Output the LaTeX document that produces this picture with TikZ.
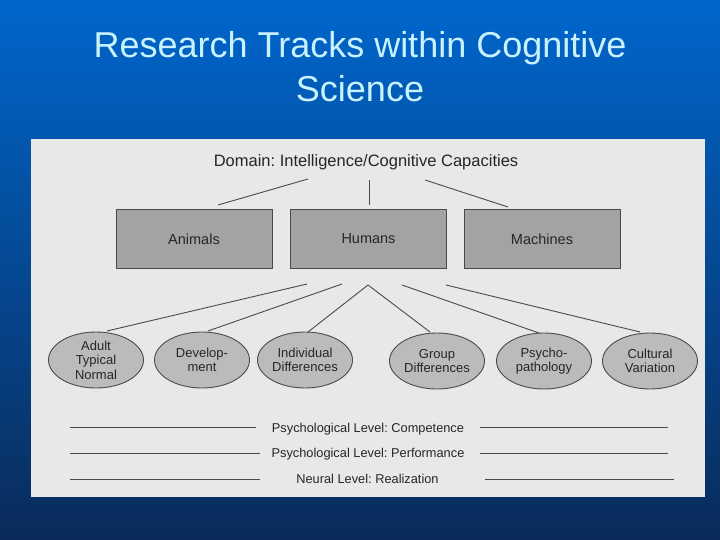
\documentclass[tikz,border=0pt]{standalone}
\usepackage{fontspec}
\setmainfont{Liberation Sans}
\usetikzlibrary{shapes.geometric}
\frenchspacing
\definecolor{bgtop}{HTML}{0066CC}
\definecolor{bgmid}{HTML}{0852A8}
\definecolor{bgbot}{HTML}{0A2B5A}
\definecolor{titlecol}{HTML}{C8F2FF}
\definecolor{panel}{HTML}{E8E8E8}
\definecolor{boxfill}{HTML}{A3A3A3}
\definecolor{ellfill}{HTML}{BBBBBB}
\definecolor{ink}{HTML}{4A4A4A}
\definecolor{txt}{HTML}{262626}
\tikzset{
  titletext/.style={text=titlecol, font=\fontsize{36}{44}\selectfont, anchor=base, inner sep=0pt},
  boxnode/.style={draw=ink, line width=1pt, fill=boxfill, minimum width=156pt, minimum height=58pt, inner sep=0pt, text=txt, font=\fontsize{14.5}{17}\selectfont},
  ellnode/.style={ellipse, draw=ink, line width=0.9pt, fill=ellfill, minimum width=95pt, minimum height=56pt, inner sep=0pt, align=center, text=txt, font=\fontsize{13}{14.5}\selectfont},
  conn/.style={draw=ink, line width=0.9pt},
  leveltext/.style={anchor=base, inner sep=0pt, text=txt, font=\fontsize{12.8}{15}\selectfont},
}
\begin{document}
\begin{tikzpicture}[x=1pt,y=-1pt]
\useasboundingbox (0,0) rectangle (720,540);
\shade[top color=bgtop, middle color=bgmid, bottom color=bgbot] (0,0) rectangle (720,540);
\node[titletext] (t1) at (360,58) {Research Tracks within Cognitive};
\node[titletext] (t2) at (360,102) {Science};
\fill[panel] (31,139) rectangle (705,497);
% domain
\node[anchor=base, inner sep=0pt, text=txt, font=\fontsize{16.5}{20}\selectfont] (dom) at (366,167) {Domain: Intelligence/Cognitive Capacities};
\node[boxnode] (animals) at (194,239) {Animals};
\node[boxnode] (humans) at (368.5,239) {Humans};
\node[boxnode] (machines) at (542,239) {Machines};
\coordinate (d1) at (308,179); \coordinate (d1e) at (218,205);
\coordinate (d2) at (369,180); \coordinate (d2e) at (369,205);
\coordinate (d3) at (425,180); \coordinate (d3e) at (508,207);
\draw[conn] (d1) -- (d1e);
\draw[conn] (d2) -- (d2e);
\draw[conn] (d3) -- (d3e);
% ellipses
\node[ellnode] (adult) at (96,360) {Adult\\Typical\\Normal};
\node[ellnode] (dev) at (202,360) {Develop-\\ment};
\node[ellnode] (indiv) at (305,360) {Individual\\Differences};
\node[ellnode] (group) at (437,361) {Group\\Differences};
\node[ellnode] (psycho) at (544,361) {Psycho-\\pathology};
\node[ellnode] (cult) at (650,361) {Cultural\\Variation};
\coordinate (h1) at (307,284);
\coordinate (h2) at (342,284);
\coordinate (apex) at (368,285);
\coordinate (h4) at (402,285);
\coordinate (h5) at (446,285);
\coordinate (e1) at (107,331);
\coordinate (e2) at (208,331);
\coordinate (e3) at (308,332);
\coordinate (e4) at (430,332);
\coordinate (e5) at (539,333);
\coordinate (e6) at (640,332);
\draw[conn] (h1) -- (e1);
\draw[conn] (h2) -- (e2);
\draw[conn] (e3) -- (apex) -- (e4);
\draw[conn] (h4) -- (e5);
\draw[conn] (h5) -- (e6);
% levels
\node[leveltext] (lv1) at (368,432) {Psychological Level: Competence};
\node[leveltext] (lv2) at (368,457) {Psychological Level: Performance};
\node[leveltext] (lv3) at (367.5,483) {Neural Level: Realization};
\coordinate (l1a) at (70,427); \coordinate (l1b) at (256,427);
\coordinate (l1c) at (480,427); \coordinate (l1d) at (668,427);
\coordinate (l2a) at (70,453); \coordinate (l2b) at (260,453);
\coordinate (l2c) at (480,453); \coordinate (l2d) at (668,453);
\coordinate (l3a) at (70,479); \coordinate (l3b) at (260,479);
\coordinate (l3c) at (485,479); \coordinate (l3d) at (674,479);
\draw[conn] (l1a) -- (l1b); \draw[conn] (l1c) -- (l1d);
\draw[conn] (l2a) -- (l2b); \draw[conn] (l2c) -- (l2d);
\draw[conn] (l3a) -- (l3b); \draw[conn] (l3c) -- (l3d);
\end{tikzpicture}
\end{document}
